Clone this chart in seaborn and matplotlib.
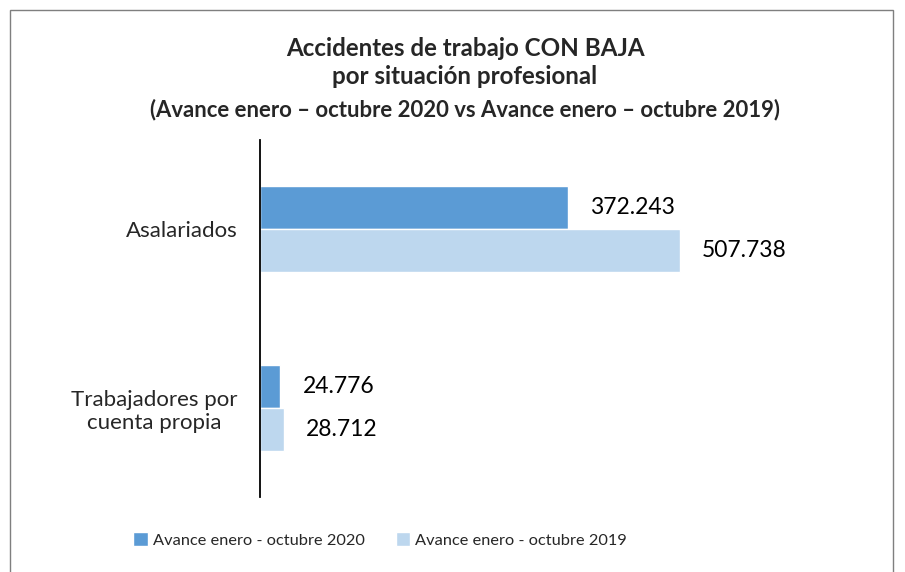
import numpy as np
import pandas as pd
import matplotlib
matplotlib.use("Agg")
import matplotlib.pyplot as plt
import seaborn as sns
from matplotlib.patches import Rectangle

# Data
categorias = ["Asalariados", "Trabajadores por\ncuenta propia"]
series = ["Avance enero - octubre 2020", "Avance enero - octubre 2019"]
valores_2020 = [372243, 24776]
valores_2019 = [507738, 28712]
colores = ["#5B9BD5", "#BDD7EE"]

df = pd.DataFrame({
    "categoria": categorias * 2,
    "serie": [series[0]] * 2 + [series[1]] * 2,
    "valor": valores_2020 + valores_2019,
})

sns.set_style("white")
plt.rcParams["font.family"] = ["Lato", "DejaVu Sans"]

fig = plt.figure(figsize=(9.05, 5.72), dpi=100)
ax = fig.add_axes([0.2873, 0.1311, 0.548, 0.6241])

sns.barplot(data=df, y="categoria", x="valor", hue="serie", orient="h",
            palette=colores, width=0.48, saturation=1, ax=ax, legend=True)

# value labels with dot as thousands separator
for cont in ax.containers:
    etiquetas = [f"{int(b.get_width()):,}".replace(",", ".") for b in cont]
    ax.bar_label(cont, labels=etiquetas, padding=16, fontsize=16.5, color="#000000")

ax.set_xlim(0, 600000)
ax.set_ylim(1.5, -0.5)
ax.set_xlabel("")
ax.set_ylabel("")
ax.set_xticks([])
for s in ["top", "right", "bottom"]:
    ax.spines[s].set_visible(False)
ax.spines["left"].set_color("#000000")
ax.spines["left"].set_linewidth(1.3)
ax.tick_params(axis="y", length=0, pad=16, labelsize=16)
for lbl in ax.get_yticklabels():
    lbl.set_multialignment("center")

# legend at bottom
handles, labels = ax.get_legend_handles_labels()
ax.get_legend().remove()
fig.legend(handles, labels, ncol=2, loc="center", bbox_to_anchor=(0.42, 1 - 540 / 572),
           frameon=False, fontsize=11.8, handlelength=0.9, handleheight=0.9,
           handletextpad=0.3, columnspacing=1.9)

# title lines
xc = 465 / 905
fig.text(xc, 1 - 48 / 572, "Accidentes de trabajo CON BAJA", ha="center", va="center",
         fontsize=17.4, fontweight="bold", color="#262626")
fig.text(xc, 1 - 77 / 572, "por situación profesional", ha="center", va="center",
         fontsize=17.4, fontweight="bold", color="#262626")
fig.text(xc, 1 - 110 / 572, "(Avance enero \u2013 octubre 2020 vs Avance enero \u2013 octubre 2019)",
         ha="center", va="center", fontsize=15.9, fontweight="bold", color="#262626")

# outer frame
fig.patches.append(Rectangle((10 / 905, -0.02), 883 / 905, 1 - 10 / 572 + 0.02,
                             transform=fig.transFigure, fill=False,
                             edgecolor="#7f7f7f", linewidth=1))

fig.savefig("out.png", dpi=100)
